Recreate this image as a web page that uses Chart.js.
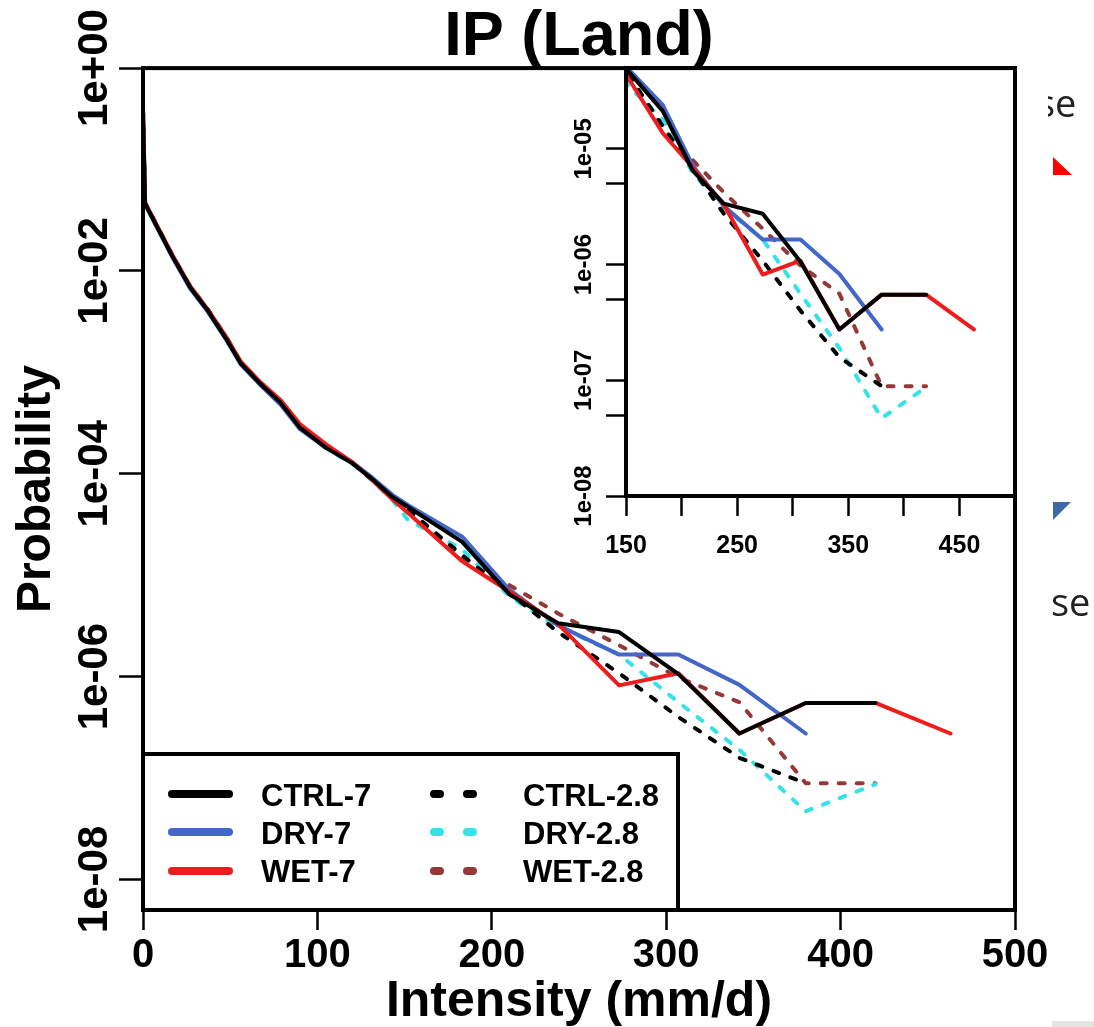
<!DOCTYPE html>
<html>
<head>
<meta charset="utf-8">
<script src="https://cdn.jsdelivr.net/npm/chart.js@4.4.0/dist/chart.umd.min.js"></script>
<style>
  html, body { margin: 0; padding: 0; background: #fff; }
  #wrap { position: relative; width: 1094px; height: 1027px; overflow: hidden; background: #fff; }
  #main { position: absolute; left: 0; top: 0; }
  #inset { position: absolute; left: 540px; top: 40px; }
  #overlay { position: absolute; left: 0; top: 0; pointer-events: none; }
</style>
</head>
<body>
<div id="wrap">
  <canvas id="main" width="1094" height="1027"></canvas>
  <canvas id="inset" width="500" height="540"></canvas>
  <svg id="overlay" width="1094" height="1027" xmlns="http://www.w3.org/2000/svg"></svg>
</div>
<script>
// ---------------- DATA ----------------
const intensity = [0, 1.2, 17, 27, 37, 48, 56, 67, 79, 90, 105, 120, 132, 143,
                   152, 183, 210, 238, 273, 307, 342, 380, 420, 463];

const ctrl7  = [0.385, 0.046, 0.0138, 0.0069, 0.0041, 0.0021, 0.00123, 7.8e-4, 5.0e-4, 2.85e-4, 1.8e-4, 1.27e-4, 8.7e-5, 5.9e-5,
                4.7e-5, 2.13e-5, 6.5e-6, 3.36e-6, 2.75e-6, 1.06e-6, 2.75e-7, 5.5e-7, 5.5e-7, null];
const dry7   = [0.385, 0.045, 0.0135, 0.0067, 0.0040, 0.00205, 0.0012, 7.6e-4, 4.8e-4, 2.75e-4, 1.8e-4, 1.3e-4, 9.0e-5, 6.2e-5,
                4.9e-5, 2.4e-5, 7.2e-6, 3.2e-6, 1.65e-6, 1.65e-6, 8.3e-7, 2.75e-7, null, null];
const wet7   = [0.385, 0.047, 0.0142, 0.0071, 0.0042, 0.0022, 0.00128, 8.1e-4, 5.3e-4, 3.1e-4, 1.95e-4, 1.3e-4, 8.5e-5, 5.6e-5,
                4.1e-5, 1.37e-5, 6.9e-6, 3.3e-6, 8.2e-7, 1.08e-6, 2.75e-7, 5.5e-7, 5.5e-7, 2.75e-7];
const ctrl28 = [0.385, 0.0465, 0.014, 0.007, 0.0042, 0.00215, 0.00126, 8.0e-4, 5.1e-4, 2.95e-4, 1.85e-4, 1.28e-4, 8.6e-5, 5.8e-5,
                4.4e-5, 1.58e-5, 6.7e-6, 2.75e-6, 1.08e-6, 4.0e-7, 1.58e-7, 8.9e-8, null, null];
const dry28  = [0.385, 0.0455, 0.0137, 0.0068, 0.0041, 0.0021, 0.00122, 7.7e-4, 4.9e-4, 2.8e-4, 1.78e-4, 1.25e-4, 8.4e-5, 5.5e-5,
                3.5e-5, 1.8e-5, 6.2e-6, 3.1e-6, 1.65e-6, 5.6e-7, 1.9e-7, 4.7e-8, 8.7e-8, null];
const wet28  = [0.385, 0.047, 0.0141, 0.0071, 0.0042, 0.0022, 0.00127, 8.0e-4, 5.2e-4, 3.0e-4, 1.9e-4, 1.3e-4, 8.8e-5, 5.9e-5,
                4.4e-5, 1.5e-5, 8.0e-6, 4.2e-6, 2.04e-6, 9.8e-7, 5.6e-7, 8.9e-8, 8.9e-8, null];

const seriesNames  = ['CTRL-7', 'DRY-7', 'WET-7', 'CTRL-2.8', 'DRY-2.8', 'WET-2.8'];
const seriesValues = [ctrl7, dry7, wet7, ctrl28, dry28, wet28];

const xTicksMain       = [0, 100, 200, 300, 400, 500];
const yTicksMain       = [1, 1e-2, 1e-4, 1e-6, 1e-8];
const yTickLabelsMain  = ['1e+00', '1e-02', '1e-04', '1e-06', '1e-08'];
const xTicksInset      = [150, 200, 250, 300, 350, 400, 450];
const xTickLabelsInset = ['150', '', '250', '', '350', '', '450'];
const yTicksInset      = [1e-5, 5e-6, 1e-6, 5e-7, 1e-7, 5e-8, 1e-8];
const yTickLabelsInset = ['1e-05', '', '1e-06', '', '1e-07', '', '1e-08'];

// ---------------- STYLE ----------------
const FONT = '"Liberation Sans", Arial, Helvetica, sans-serif';
const seriesStyle = [
  { color: '#000000', dash: [] },
  { color: '#4466c6', dash: [] },
  { color: '#ee1c1c', dash: [] },
  { color: '#000000', dash: [6, 12] },
  { color: '#35e2ea', dash: [6, 12] },
  { color: '#953838', dash: [6, 12] }
];
const drawOrder = [0, 2, 1, 3, 4, 5];

function makeDatasets(lw) {
  return seriesValues.map((vals, i) => ({
    label: seriesNames[i],
    data: intensity.map((x, j) => ({ x: x, y: vals[j] })).filter(p => p.y !== null),
    borderColor: seriesStyle[i].color,
    backgroundColor: seriesStyle[i].color,
    borderWidth: lw,
    borderDash: seriesStyle[i].dash,
    borderCapStyle: 'round',
    borderJoinStyle: 'round',
    pointRadius: 0,
    tension: 0,
    fill: false,
    order: drawOrder[i]
  }));
}

const framePlugin = {
  id: 'frame',
  afterDatasetsDraw(chart, args, opts) {
    const { ctx, chartArea: a } = chart;
    ctx.save();
    ctx.strokeStyle = '#000';
    ctx.lineWidth = opts.width || 4;
    ctx.strokeRect(a.left, a.top, a.right - a.left, a.bottom - a.top);
    ctx.restore();
  }
};

const rotYPlugin = {
  id: 'rotYLabels',
  afterDraw(chart, args, o) {
    const s = chart.scales.y, ctx = chart.ctx;
    ctx.save();
    ctx.fillStyle = '#000';
    ctx.font = 'bold ' + o.size + 'px ' + FONT;
    ctx.textAlign = 'center';
    ctx.textBaseline = 'alphabetic';
    o.values.forEach((v, i) => {
      if (!o.labels[i]) return;
      const y = s.getPixelForValue(v);
      ctx.save();
      ctx.translate(chart.chartArea.left - o.offset, y);
      ctx.rotate(-Math.PI / 2);
      ctx.fillText(o.labels[i], 0, 0);
      ctx.restore();
    });
    ctx.restore();
  }
};

function axisCommon(tickLen) {
  return {
    grid: { drawOnChartArea: false, drawTicks: true, tickLength: tickLen, tickWidth: 2.5, tickColor: '#000' },
    border: { display: true, width: 4, color: '#000' }
  };
}

// ---------------- MAIN CHART ----------------
new Chart(document.getElementById('main'), {
  type: 'line',
  data: { datasets: makeDatasets(4) },
  options: {
    responsive: false,
    animation: false,
    devicePixelRatio: 1,
    layout: { padding: { left: 0, right: 79, top: 0, bottom: 0 } },
    plugins: {
      legend: { display: false },
      tooltip: { enabled: false },
      title: {
        display: true, text: 'IP (Land)', color: '#000', fullSize: false,
        font: { family: FONT, size: 63, weight: 'bold', lineHeight: 0.97 },
        padding: { top: 7, bottom: 0 }
      },
      frame: { width: 4 },
      rotYLabels: { values: yTicksMain, labels: yTickLabelsMain, size: 42, offset: 36 }
    },
    scales: {
      x: Object.assign(axisCommon(20), {
        type: 'linear', min: 0, max: 500,
        afterBuildTicks: s => { s.ticks = xTicksMain.map(v => ({ value: v })); },
        afterFit: s => { s.height = 117; },
        ticks: { color: '#000', font: { family: FONT, size: 40, weight: 'bold' }, padding: 2,
                 maxRotation: 0, autoSkip: false, callback: v => String(v) },
        title: { display: true, text: 'Intensity (mm/d)', color: '#000',
                 font: { family: FONT, size: 50, weight: 'bold', lineHeight: 1 }, padding: { top: 0, bottom: 0 } }
      }),
      y: Object.assign(axisCommon(24), {
        type: 'logarithmic', min: 5e-9, max: 1,
        afterBuildTicks: s => { s.ticks = yTicksMain.map(v => ({ value: v })); },
        afterFit: s => { s.width = 143; },
        ticks: { display: false },
        title: { display: true, text: 'Probability', color: '#000',
                 font: { family: FONT, size: 48, weight: 'bold', lineHeight: 1.2 }, padding: { top: 8, bottom: 0 } }
      })
    }
  },
  plugins: [framePlugin, rotYPlugin]
});

// ---------------- INSET CHART ----------------
new Chart(document.getElementById('inset'), {
  type: 'line',
  data: { datasets: makeDatasets(4) },
  options: {
    responsive: false,
    animation: false,
    devicePixelRatio: 1,
    layout: { padding: { left: 0, right: 25, top: 28, bottom: 0 } },
    plugins: {
      legend: { display: false },
      tooltip: { enabled: false },
      title: { display: false },
      frame: { width: 4 },
      rotYLabels: { values: yTicksInset, labels: yTickLabelsInset, size: 24, offset: 35 }
    },
    scales: {
      x: Object.assign(axisCommon(20), {
        type: 'linear', min: 150, max: 500,
        afterBuildTicks: s => { s.ticks = xTicksInset.map(v => ({ value: v })); },
        afterFit: s => { s.height = 84; },
        ticks: { color: '#000', font: { family: FONT, size: 25, weight: 'bold' }, padding: 15,
                 maxRotation: 0, autoSkip: false, callback: (v, i) => xTickLabelsInset[i] }
      }),
      y: Object.assign(axisCommon(20), {
        type: 'logarithmic', min: 1e-8, max: 5e-5,
        afterBuildTicks: s => { s.ticks = yTicksInset.map(v => ({ value: v })); },
        afterFit: s => { s.width = 86; },
        ticks: { display: false }
      })
    }
  },
  plugins: [framePlugin, rotYPlugin]
});

// ---------------- LEGEND + PAGE FRAGMENTS (SVG) ----------------
const NS = 'http://www.w3.org/2000/svg';
const svg = document.getElementById('overlay');
function el(tag, attrs, text) {
  const e = document.createElementNS(NS, tag);
  for (const k in attrs) e.setAttribute(k, attrs[k]);
  if (text !== undefined) e.textContent = text;
  svg.appendChild(e);
  return e;
}
// legend box
el('rect', { x: 143, y: 754, width: 535, height: 156, fill: '#fff', stroke: '#000', 'stroke-width': 4 });
const rowLineY = [794, 832, 871];
const rowTextY = [806, 844, 882];
seriesNames.forEach((name, i) => {
  const col = i < 3 ? 0 : 1, row = i % 3;
  const st = seriesStyle[i];
  if (col === 0) {
    el('line', { x1: 172, x2: 229, y1: rowLineY[row], y2: rowLineY[row], stroke: st.color,
                 'stroke-width': 8, 'stroke-linecap': 'round' });
  } else {
    el('line', { x1: 434, x2: 473, y1: rowLineY[row], y2: rowLineY[row], stroke: st.color,
                 'stroke-width': 8, 'stroke-linecap': 'round', 'stroke-dasharray': '6 27' });
  }
  el('text', { x: col === 0 ? 261 : 523, y: rowTextY[row], 'font-family': FONT, 'font-size': 31,
               'font-weight': 'bold', fill: '#000' }, name);
});

// fragments of the slide behind the figure
el('text', { x: 1037, y: 117, 'font-family': '"Open Sans", sans-serif', 'font-size': 38, fill: '#222' }, 'se');
el('rect', { x: 1020, y: 78, width: 28, height: 50, fill: '#fff' });
el('polygon', { points: '1053,157 1072,175 1053,175', fill: '#ff0000' });
el('polygon', { points: '1053,502 1071,502 1053,520', fill: '#3d68a8' });
el('text', { x: 1051, y: 616, 'font-family': '"Open Sans", sans-serif', 'font-size': 38, fill: '#222' }, 'se');
el('rect', { x: 1052, y: 1021, width: 42, height: 6, fill: '#e4e4e4' });
</script>
</body>
</html>
